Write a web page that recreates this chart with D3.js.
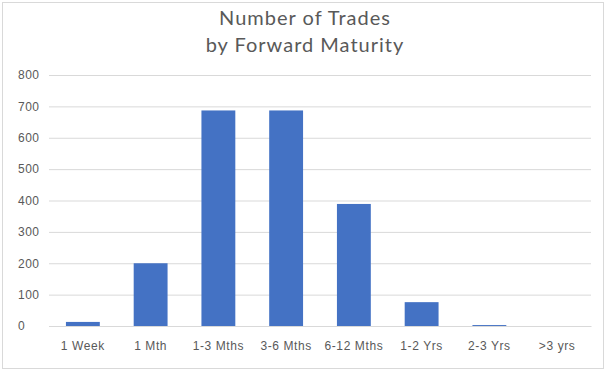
<!DOCTYPE html>
<html>
<head>
<meta charset="utf-8">
<script src="https://cdn.jsdelivr.net/npm/d3@7"></script>
<style>
  body { margin: 0; background: #fff; }
  svg { display: block; font-family: Lato, "Open Sans", sans-serif; }
</style>
</head>
<body>
<svg id="chart" width="608" height="372"></svg>
<script>
const categories = ["1 Week", "1 Mth", "1-3 Mths", "3-6 Mths", "6-12 Mths", "1-2 Yrs", "2-3 Yrs", ">3 yrs"];
const trades = [13, 200, 687, 687, 389, 76, 3, 0];
const yTicks = [0, 100, 200, 300, 400, 500, 600, 700, 800];
const titleLines = ["Number of Trades", "by Forward Maturity"];

const margin = { top: 75, right: 17, bottom: 46, left: 49 };
const width = 608 - margin.left - margin.right;
const height = 372 - margin.top - margin.bottom;

let svg = d3.select("#chart");

// outer chart frame
svg.append("rect")
  .attr("x", 2.5).attr("y", 2.5)
  .attr("width", 601).attr("height", 366)
  .attr("fill", "#fff")
  .attr("stroke", "#d9d9d9");

svg.append("text")
  .selectAll("tspan")
  .data(titleLines)
  .enter()
  .append("tspan")
  .attr("x", 305)
  .attr("y", (d, i) => 25 + i * 27)
  .attr("text-anchor", "middle")
  .style("font-size", "20px")
  .style("letter-spacing", "1px")
  .style("fill", "#595959")
  .text((d) => d);

const g = svg.append("g")
  .attr("transform", `translate(${margin.left}, ${margin.top})`);

const x = d3.scaleBand()
  .domain(categories)
  .range([0, width])
  .paddingInner(0.5)
  .paddingOuter(0.25);

const y = d3.scaleLinear()
  .domain([0, 800])
  .range([height, 0]);

// gridlines + y labels
const yAxis = g.append("g")
  .call(d3.axisLeft(y).tickValues(yTicks).tickSize(-width).tickPadding(12));
yAxis.select(".domain").remove();
yAxis.selectAll("line").attr("stroke", "#d9d9d9");
yAxis.selectAll("text")
  .style("font-size", "12px")
  .style("letter-spacing", "0.5px")
  .style("fill", "#595959")
  .attr("text-anchor", "start")
  .attr("x", -31);

g.selectAll(".bar")
  .data(trades)
  .enter()
  .append("rect")
  .attr("class", "bar")
  .attr("x", (d, i) => x(categories[i]))
  .attr("y", (d) => y(d))
  .attr("width", x.bandwidth())
  .attr("height", (d) => Math.max(0, height - y(d)))
  .style("fill", "#4472c4");

const xAxis = g.append("g")
  .attr("transform", `translate(0, ${height})`)
  .call(d3.axisBottom(x).tickSize(0).tickPadding(15));
xAxis.select(".domain").attr("stroke", "#d9d9d9");
xAxis.selectAll("text")
  .style("font-size", "12px")
  .style("letter-spacing", "0.6px")
  .style("fill", "#595959");
</script>
</body>
</html>
